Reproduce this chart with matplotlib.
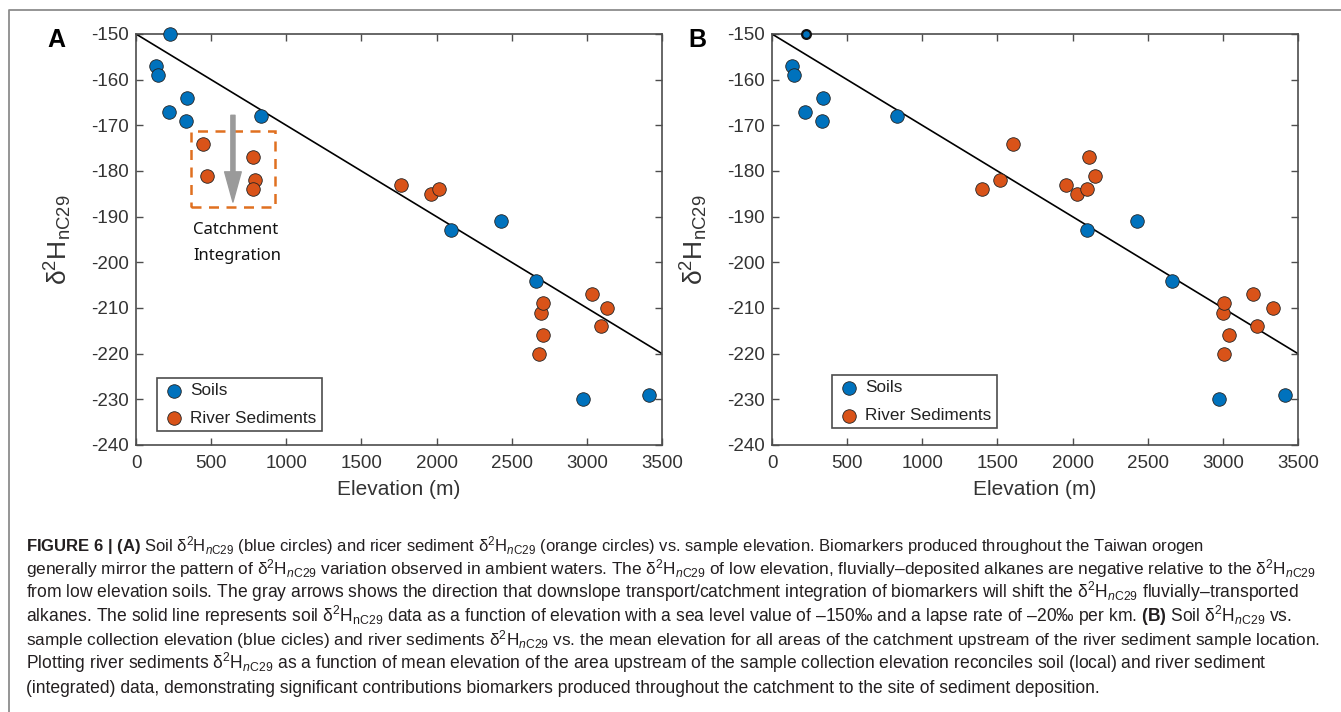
import matplotlib
matplotlib.use('Agg')
import matplotlib.pyplot as plt
from matplotlib.lines import Line2D
from matplotlib.patches import Rectangle

plt.rcParams['font.family'] = ['Liberation Sans', 'DejaVu Sans']
plt.rcParams['mathtext.fontset'] = 'custom'
plt.rcParams['mathtext.rm'] = 'Liberation Sans'
plt.rcParams['mathtext.it'] = 'Liberation Sans:italic'
plt.rcParams['mathtext.bf'] = 'Liberation Sans:bold'
plt.rcParams['axes.unicode_minus'] = False

# ---------------- data ----------------
soil_elev = [223, 134, 149, 217, 342, 330, 829, 2094, 2430, 2659, 2974, 3416]
soil_d2h = [-150, -157, -159, -167, -164, -169, -168, -193, -191, -204, -230, -229]

sed_d2h = [-174, -181, -177, -182, -184, -183, -185, -184, -220, -211, -209, -216, -207, -210, -214]
sed_elev_site = [446, 475, 781, 790, 778, 1762, 1964, 2017, 2683, 2695, 2709, 2709, 3033, 3134, 3093]
sed_elev_mean = [1602, 2151, 2109, 1516, 1396, 1958, 2029, 2095, 3006, 2998, 3009, 3040, 3200, 3334, 3228]

sea_level = -150      # permil
lapse_rate = -20      # permil per km
line_elev = [0, 3500]
line_d2h = [sea_level + lapse_rate * e / 1000 for e in line_elev]

xticks = [0, 500, 1000, 1500, 2000, 2500, 3000, 3500]
yticks = [-240, -230, -220, -210, -200, -190, -180, -170, -160, -150]

panel_labels = ['A', 'B']
legend_labels = ['Soils', 'River Sediments']
xlabel = 'Elevation (m)'
ylabel = r'$\mathrm{\delta}^{2}\mathrm{H}_{\mathrm{nC29}}$'

D = r'$\mathrm{\delta}^{2}\mathrm{H}_{\mathit{n}\mathrm{C29}}$'
D0 = r'$\mathrm{\delta}^{2}\mathrm{H}_{\mathrm{nC29}}$'
caption_lines = [
    r'$\mathbf{FIGURE\ 6\ |\ (A)}$ Soil ' + D + ' (blue circles) and ricer sediment ' + D + ' (orange circles) vs. sample elevation. Biomarkers produced throughout the Taiwan orogen',
    'generally mirror the pattern of ' + D + ' variation observed in ambient waters. The ' + D + ' of low elevation, fluvially–deposited alkanes are negative relative to the ' + D,
    'from low elevation soils. The gray arrows shows the direction that downslope transport/catchment integration of biomarkers will shift the ' + D + ' fluvially–transported',
    'alkanes. The solid line represents soil ' + D0 + ' data as a function of elevation with a sea level value of –150‰ and a lapse rate of –20‰ per km. $\\mathbf{(B)}$ Soil ' + D + ' vs.',
    'sample collection elevation (blue cicles) and river sediments ' + D + ' vs. the mean elevation for all areas of the catchment upstream of the river sediment sample location.',
    'Plotting river sediments ' + D + ' as a function of mean elevation of the area upstream of the sample collection elevation reconciles soil (local) and river sediment',
    '(integrated) data, demonstrating significant contributions biomarkers produced throughout the catchment to the site of sediment deposition.',
]
caption_right = [1205, 1322, 1322, 1296, 1322, 1290, 1143]

# ---------------- style ----------------
W, H = 1341, 712
BLUE = '#0072BD'
ORANGE = '#D95319'
AXC = '#4d4d4d'
TXT = '#333333'

fig = plt.figure(figsize=(W / 100, H / 100), dpi=100)

def px_axes(l, r, t, b):
    return fig.add_axes([l / W, 1 - b / H, (r - l) / W, (b - t) / H])

axA = px_axes(136, 662, 34, 445)
axB = px_axes(772, 1298, 34, 445)

for ax, sed_x, leg_anchor in [(axA, sed_elev_site, (0.040, 0.034)),
                              (axB, sed_elev_mean, (0.114, 0.041))]:
    ax.plot(line_elev, line_d2h, color='black', lw=1.2, zorder=2)
    if ax is axA:
        ax.scatter(soil_elev, soil_d2h, s=95, color=BLUE, edgecolor='#222222',
                   linewidth=0.6, zorder=3, clip_on=False, label=legend_labels[0])
    else:
        ax.scatter(soil_elev[1:], soil_d2h[1:], s=95, color=BLUE, edgecolor='#222222',
                   linewidth=0.6, zorder=3, clip_on=False, label=legend_labels[0])
        ax.scatter(soil_elev[:1], soil_d2h[:1], s=40, color=BLUE, edgecolor='#111111',
                   linewidth=1.6, zorder=3, clip_on=False)
    ax.scatter(sed_x, sed_d2h, s=95, color=ORANGE, edgecolor='#222222',
               linewidth=0.6, zorder=3, clip_on=False, label=legend_labels[1])
    ax.set_xlim(0, 3500)
    ax.set_ylim(-240, -150)
    ax.set_xticks(xticks)
    ax.set_yticks(yticks)
    ax.tick_params(direction='in', length=5, width=1, color=AXC, labelcolor=TXT,
                   labelsize=13.5, top=True, right=True, pad=5)
    ax.tick_params(axis='x', pad=7)
    for sp in ax.spines.values():
        sp.set_color(AXC)
        sp.set_linewidth(1.2)
    ax.set_xlabel(xlabel, fontsize=15, color=TXT)
    ax.xaxis.set_label_coords(0.5, -0.085)
    ax.set_ylabel(ylabel, fontsize=19, color=TXT)
    ax.yaxis.set_label_coords(-0.118, 0.5)
    leg = ax.legend(loc='lower left', bbox_to_anchor=leg_anchor, fontsize=12.3,
                    fancybox=False, framealpha=1, edgecolor=AXC, borderpad=0.3,
                    handletextpad=0.25, labelspacing=0.75, handlelength=1.4,
                    borderaxespad=0)
    leg.get_frame().set_linewidth(1.2)
    for t in leg.get_texts():
        t.set_color('#222222')

# catchment integration annotation on panel A
axA.add_patch(Rectangle((365, -187.8), 562, 16.6, fill=False, edgecolor='#E07020',
                        lw=1.8, linestyle=(0, (4, 3)), zorder=1))
axA.annotate('', xy=(645, -186.8), xytext=(645, -167.8),
             arrowprops=dict(arrowstyle='simple,head_length=1.45,head_width=0.8,tail_width=0.2',
                             color='#9a9a9a', mutation_scale=15, shrinkA=0, shrinkB=0),
             zorder=2)
axA.text(380, -191.2, 'Catchment\nIntegration', fontsize=12, family=['Noto Sans', 'DejaVu Sans'],
         color='#111111', ha='left', va='top', linespacing=1.85)

# panel letters
fig.text(56 / W, 1 - 40 / H, panel_labels[0], fontsize=18, fontweight='bold', ha='center', va='center')
fig.text(697 / W, 1 - 40 / H, panel_labels[1], fontsize=18, fontweight='bold', ha='center', va='center')

# frame lines (top and left)
fig.add_artist(Line2D([9 / W, 9 / W, 1.0], [0.0, 1 - 10 / H, 1 - 10 / H], color='#8c8c8c', lw=1.3,
                      transform=fig.transFigure))

# caption
fig.canvas.draw()
r = fig.canvas.get_renderer()
base = 11.5
for i, (line, right) in enumerate(zip(caption_lines, caption_right)):
    t = fig.text(26 / W, 1 - (551 + 23.6 * i) / H, line, fontsize=base, ha='left',
                 va='baseline', color='#231f20')
    w = t.get_window_extent(r).width
    fs = base * (right - 26) / w
    fs = max(base * 0.9, min(base * 1.1, fs))
    t.set_fontsize(fs)

fig.savefig('out.png', dpi=100)
